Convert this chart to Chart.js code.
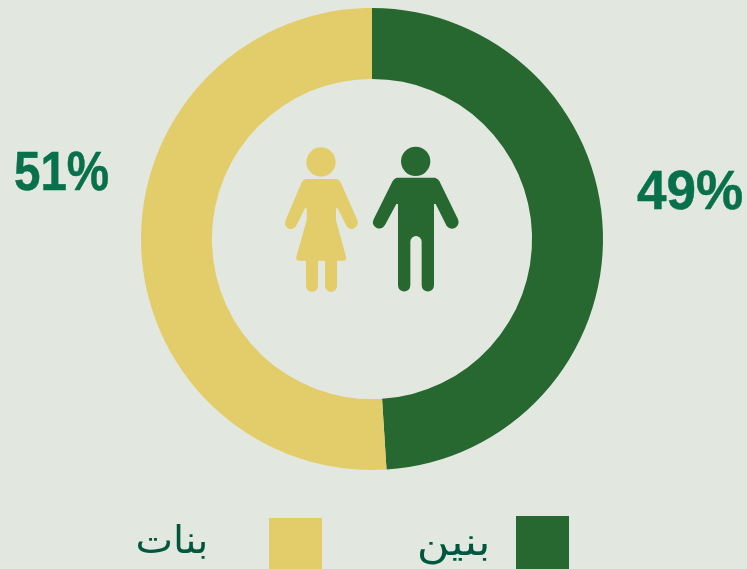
<!DOCTYPE html>
<html lang="ar">
<head>
<meta charset="utf-8">
<title>بنين وبنات</title>
<script src="https://cdn.jsdelivr.net/npm/chart.js@4/dist/chart.umd.min.js"></script>
<style>
  html, body { margin: 0; padding: 0; background: #e2e8e0; overflow: hidden; }
  #wrap { position: relative; width: 747px; height: 569px; overflow: hidden; }
  #chart { position: absolute; left: 0; top: 0; }
  #icons { position: absolute; left: 270px; top: 130px; }
  .pct { position: absolute; font: bold 55px "Liberation Sans", sans-serif; color: #08704b; line-height: 55px; white-space: nowrap; transform-origin: left top; -webkit-text-stroke: 0.5px #08704b; }
  .swatch { position: absolute; width: 53px; }
  .name { position: absolute; font: 38px "DejaVu Sans", sans-serif; color: #00573f; line-height: 50px; white-space: nowrap; direction: rtl; transform-origin: right top; }
</style>
</head>
<body>
<div id="wrap">
  <canvas id="chart" width="747" height="569"></canvas>
  <svg id="icons" width="200" height="175" viewBox="0 0 600 525">
    <circle cx="153" cy="96" r="44" fill="#e3cd6b"/>
    <path fill="#e3cd6b" d="M108 147 L200 147 Q208 148 212 157 L262 270 Q268 288 250 296 Q235 300 228 285 L203 235 L198 235 L198 270 L228 380 Q230 392 220 392 L201 392 L201 468 A18 18 0 0 1 165 468 L165 392 L144 392 L144 468 A18 18 0 0 1 108 468 L108 392 L88 392 Q76 392 79 380 L110 270 L110 235 L105 235 L80 285 Q72 300 56 296 Q40 288 47 270 L95 157 Q100 148 108 147 Z"/>
    <circle cx="437" cy="94" r="44" fill="#26682f"/>
    <path fill="#26682f" d="M380 143 L495 143 Q503 145 508 153 L564 268 Q570 285 555 294 Q540 300 530 288 L497 222 L492 222 L492 466 A18.5 18.5 0 0 1 455 466 L455 335 A17 17 0 0 0 421 335 L421 466 A18.5 18.5 0 0 1 384 466 L384 222 L379 222 L345 285 Q335 300 320 294 Q303 285 311 268 L368 153 Q373 145 380 143 Z"/>
  </svg>
  <div class="pct" id="pct0" style="left:637px; top:163px; transform:scaleX(0.964)"></div>
  <div class="pct" id="pct1" style="left:14px; top:144px; transform:scaleX(0.864)"></div>
  <div class="swatch" id="swatch0" style="left:516px; top:516px; height:53px"></div>
  <div class="swatch" id="swatch1" style="left:269px; top:518px; height:51px"></div>
  <div class="name" id="name0" style="right:257px; top:517px; transform:scaleX(1.18)"></div>
  <div class="name" id="name1" style="right:539px; top:515px; transform:scaleX(1.05)"></div>
</div>
<script>
const categories = ["بنين", "بنات"];
const shares = [49, 51];
const colors = ["#26682f", "#e3cd6b"];

categories.forEach(function (name, i) {
  document.getElementById("pct" + i).textContent = shares[i] + "%";
  document.getElementById("name" + i).textContent = name;
  document.getElementById("swatch" + i).style.background = colors[i];
});

const ctx = document.getElementById("chart").getContext("2d");

new Chart(ctx, {
  type: "doughnut",
  data: {
    labels: categories,
    datasets: [
      {
        data: shares,
        backgroundColor: colors,
        borderWidth: 0,
      },
    ],
  },
  options: {
    responsive: false,
    animation: false,
    cutout: "69.3%",
    layout: {
      padding: { left: 141, right: 144, top: 8, bottom: 99 },
    },
    plugins: {
      legend: { display: false },
      tooltip: { enabled: false },
    },
  },
});
</script>
</body>
</html>
